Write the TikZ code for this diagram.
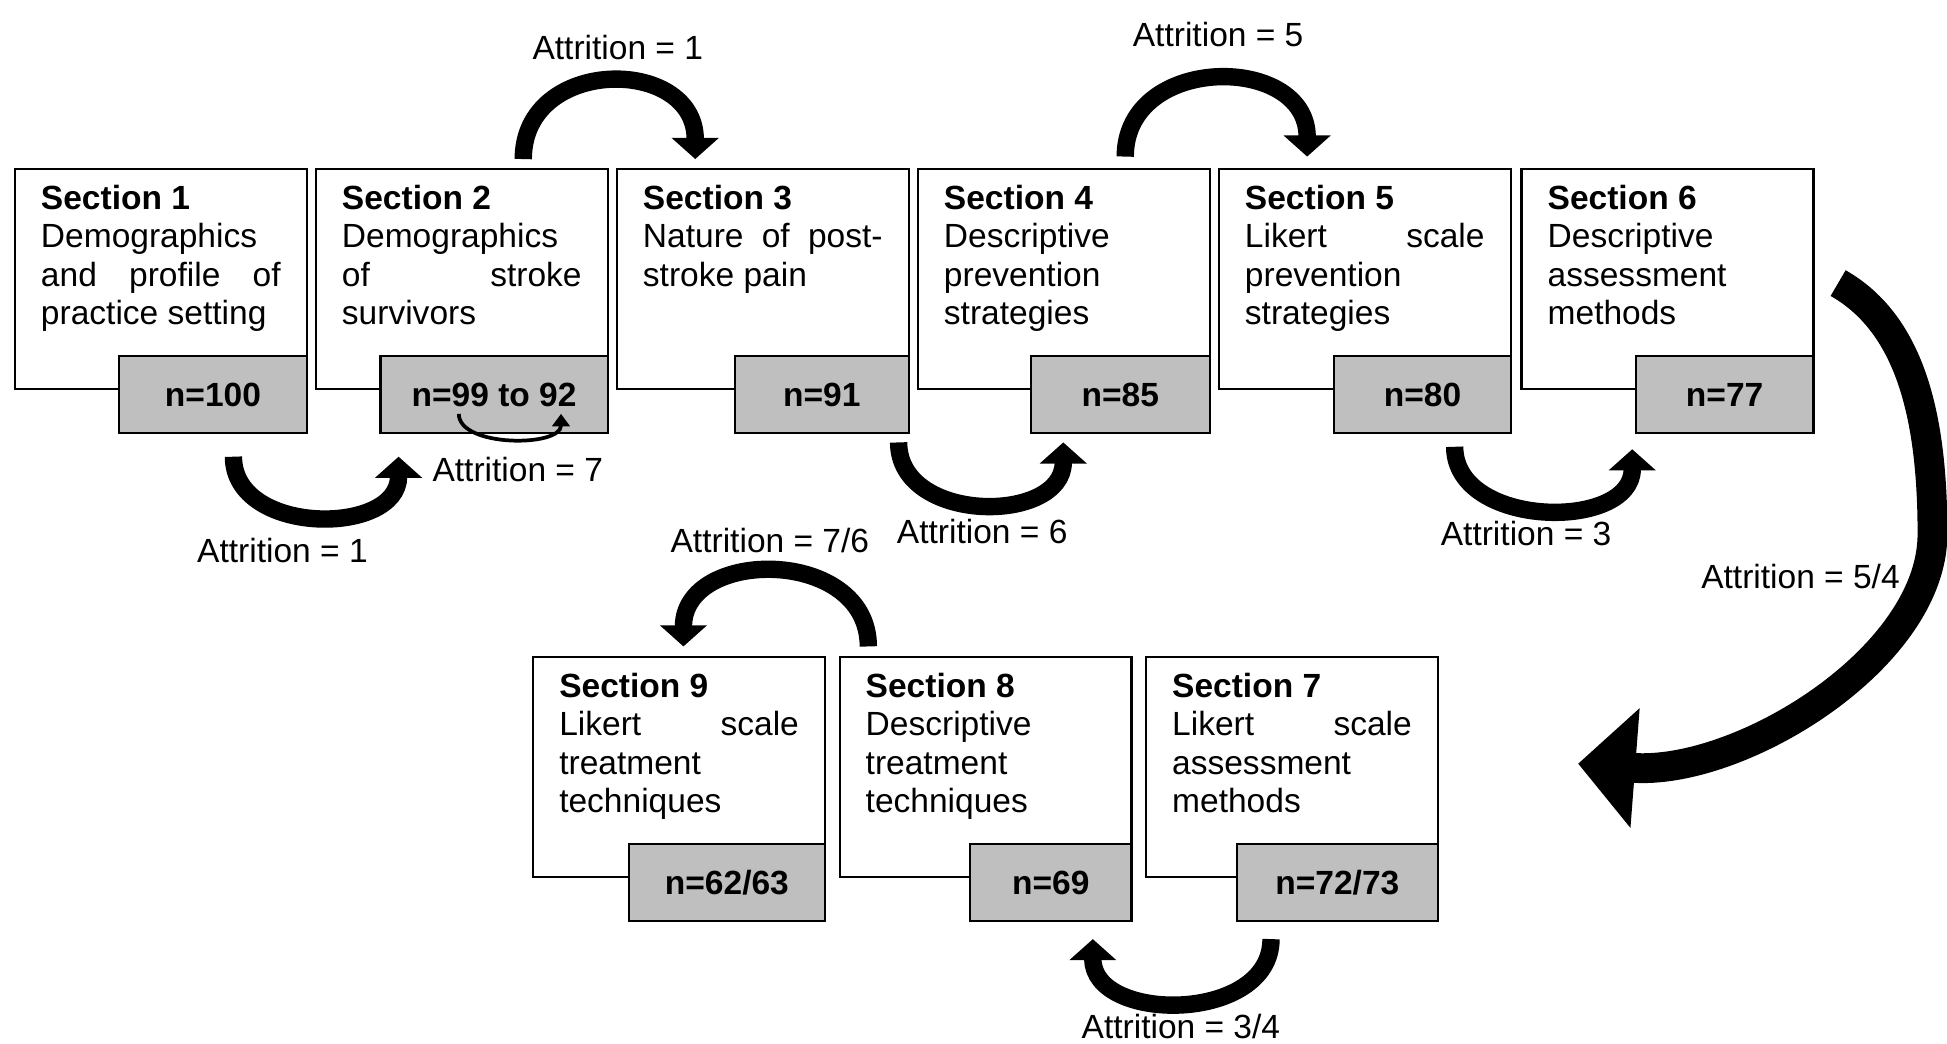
\documentclass[tikz,border=0pt]{standalone}
\usepackage{fontspec}
\setmainfont{Liberation Sans}
\usepackage{tikz}
\usetikzlibrary{arrows.meta,positioning}

\begin{document}
\begin{tikzpicture}[
    x=0.5pt, y=-0.5pt,
    font=\fontsize{13.5pt}{15.5pt}\selectfont,
    sect/.style={draw, line width=0.9pt, fill=white, inner xsep=10.5pt, inner ysep=6.5pt,
        execute at begin node={\begin{minipage}[t][75.5pt][t]{96.5pt}\hyphenpenalty=10000\hbadness=10000},
        execute at end node={\end{minipage}}},
    sample/.style={draw, line width=0.9pt, fill=black!25, minimum height=31pt, anchor=east,
        font=\fontsize{13.5pt}{15.5pt}\selectfont\bfseries},
    loss/.style={line width=7pt, -{Triangle[length=8.5pt, width=18.5pt]}},
    bigloss/.style={line width=12pt, -{Triangle[length=23pt, width=47pt]}},
    thinloss/.style={line width=1.5pt, -{Triangle[length=5pt, width=7pt]}},
    lossnote/.style={inner sep=0pt}
]
\useasboundingbox (0,0) rectangle (1568,840);

% top row
\node[sect] (s1) at (129.5,224.5) {\textbf{Section 1}\\ Demographics and profile of practice setting};
\node[sect, right=2.8pt of s1] (s2) {\textbf{Section 2}\\ Demographics of stroke survivors};
\node[sect, right=2.8pt of s2] (s3) {\textbf{Section 3}\\ Nature of post-stroke pain};
\node[sect, right=2.8pt of s3] (s4) {\textbf{Section 4}\\ Descriptive prevention strategies};
\node[sect, right=2.8pt of s4] (s5) {\textbf{Section 5}\\ Likert scale prevention strategies};
\node[sect, right=3.5pt of s5] (s6) {\textbf{Section 6}\\ Descriptive assessment methods};

% bottom row
\node[sect] (s7) at (1040.5,617.5) {\textbf{Section 7}\\ Likert scale assessment methods};
\node[sect, left=5pt of s7] (s8) {\textbf{Section 8}\\ Descriptive treatment techniques};
\node[sect, left=5pt of s8] (s9) {\textbf{Section 9}\\ Likert scale treatment techniques};

% sample sizes
\node[sample, minimum width=75.5pt] (n1) at ([yshift=-2pt]s1.south east) {n=100};
\node[sample, minimum width=91.5pt] (n2) at ([yshift=-2pt]s2.south east) {n=99 to 92};
\node[sample, minimum width=70pt] (n3) at ([yshift=-2pt]s3.south east) {n=91};
\node[sample, minimum width=72pt] (n4) at ([yshift=-2pt]s4.south east) {n=85};
\node[sample, minimum width=71pt] (n5) at ([yshift=-2pt]s5.south east) {n=80};
\node[sample, minimum width=71.5pt] (n6) at ([yshift=-2pt]s6.south east) {n=77};
\node[sample, minimum width=81pt] (n7) at ([yshift=-2pt]s7.south east) {n=72/73};
\node[sample, minimum width=65pt] (n8) at ([yshift=-2pt]s8.south east) {n=69};
\node[sample, minimum width=79pt] (n9) at ([yshift=-2pt]s9.south east) {n=62/63};

% attrition labels
\node[lossnote] (l1) at (227.5,443) {Attrition = 1};
\node[lossnote] (l2) at (417,378.5) {Attrition = 7};
\node[lossnote] (l3) at (497.5,38) {Attrition = 1};
\node[lossnote] (l4) at (791,428) {Attrition = 6};
\node[lossnote] (l5) at (981,28) {Attrition = 5};
\node[lossnote] (l6) at (1229,430) {Attrition = 3};
\node[lossnote] (l7) at (1450,464) {Attrition = 5/4};
\node[lossnote] (l8) at (620,435) {Attrition = 7/6};
\node[lossnote] (l9) at (951,827) {Attrition = 3/4};

% attrition arrows
\draw[loss] ([shift={(16.5,18)}]n1.south) .. controls +(0,64) and +(0,64) .. ([shift={(15.5,18)}]n2.south west);
\draw[thinloss] ([shift={(64,-16.5)}]n2.south west) .. controls +(0,27) and +(0,27) .. ([shift={(-38.5,-16.5)}]n2.south east);
\draw[loss] ([shift={(49.5,-7)}]s2.north) .. controls +(0,-83) and +(0,-83) .. ([shift={(64,-7)}]s3.north west);
\draw[loss] ([shift={(-9,6.5)}]n3.south east) .. controls +(0,66) and +(0,66) .. ([shift={(27,6.5)}]n4.south west);
\draw[loss] ([shift={(49.5,-9)}]s4.north) .. controls +(0,-83) and +(0,-83) .. ([shift={(72,-9)}]s5.north west);
\draw[loss] ([shift={(-46,10)}]n5.south east) .. controls +(0,66) and +(0,66) .. ([shift={(-2,12)}]n6.south west);
\coordinate (turn) at ([shift={(95,205.5)}]s6.east);
\draw[bigloss] ([shift={(19,3.5)}]s6.east) .. controls +(60,34) and +(0,-90) .. (turn)
    .. controls +(0,100) and +(130,10) .. ([shift={(112,-2.5)}]s7.east);
\draw[loss] ([shift={(24,-7.5)}]s8.north west) .. controls +(0,-80) and +(0,-80) .. ([shift={(3.5,-7.5)}]s9.north);
\draw[loss] ([shift={(28.5,13.5)}]n7.south west) .. controls +(0,68) and +(0,68) .. ([shift={(-32,13.5)}]n8.south east);
\end{tikzpicture}
\end{document}
